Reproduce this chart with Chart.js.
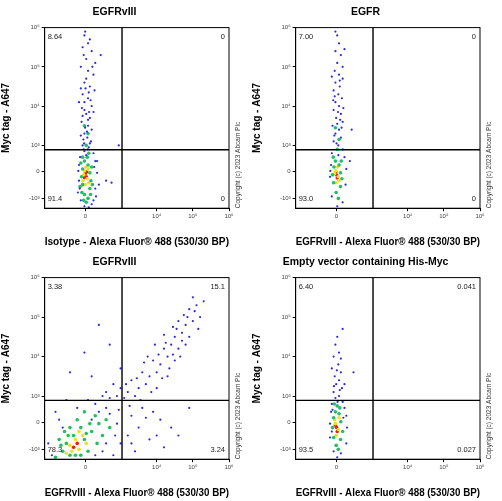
<!DOCTYPE html>
<html><head><meta charset="utf-8">
<script src="https://cdn.jsdelivr.net/npm/chart.js@4.4.0/dist/chart.umd.min.js"></script>
<style>
body{margin:0;background:#fff;}
#g{display:grid;grid-template-columns:251px 251px;grid-template-rows:250px 251px;width:502px;height:501px;}
canvas{display:block;}
</style></head><body>
<div id="g"><div><canvas id="c0" width="251" height="250"></canvas></div><div><canvas id="c1" width="251" height="250"></canvas></div><div><canvas id="c2" width="251" height="251"></canvas></div><div><canvas id="c3" width="251" height="251"></canvas></div></div>
<script>
// Display-unit axis (biexponential): tick positions and labels
const xTickVals=[2.03,4,5,6];
const xTickLabels=["0","10⁴","10⁵","10⁶"];
const yTickVals=[1.64,2.33,3,4,5,6];
const yTickLabels=["-10³","0","10³","10⁴","10⁵","10⁶"];
const titles=["EGFRvIII","EGFR","EGFRvIII","Empty vector containing His-Myc"];
const xTitles=["Isotype - Alexa Fluor® 488 (530/30 BP)","EGFRvIII - Alexa Fluor® 488 (530/30 BP)","EGFRvIII - Alexa Fluor® 488 (530/30 BP)","EGFRvIII - Alexa Fluor® 488 (530/30 BP)"];
const yTitle="Myc tag - A647";
const gateX=[3.04,3.04,3.04,3.04];
const gateY=[2.89,2.89,2.89,2.89];
const quadPct=[["8.64","0","91.4","0"],["7.00","0","93.0","0"],["3.38","15.1","78.3","3.24"],["6.40","0.041","93.5","0.027"]];

const p1Blue=[[2.0,5.8],[2.15,5.7],[1.95,5.5],[2.2,5.4],[2.05,5.2],[2.3,5.1],[1.9,5.0],[2.1,4.9],[2.25,4.8],[2.0,4.6],[2.15,4.5],[1.95,4.3],[2.1,4.2],[2.2,4.0],[2.0,3.9],[2.05,3.8],[2.15,3.7],[1.92,3.6],[2.1,3.5],[2.2,3.4],[2.0,3.3],[2.08,3.2],[2.18,3.1],[1.95,3.0],[2.12,2.95],[2.0,2.85],[2.25,2.8],[1.88,2.7],[2.3,2.6],[2.35,2.3],[1.85,2.1],[2.3,1.9],[1.9,1.6],[2.2,1.5],[2.4,2.0],[2.6,2.1],[2.75,2.05],[2.45,5.3],[1.85,4.1],[2.28,4.4],[2.02,5.9],[2.1,5.6],[1.98,5.3],[2.22,5.0],[2.05,4.7],[1.9,4.45],[2.12,4.35],[2.0,4.1],[2.25,3.85],[1.95,3.75],[2.1,3.65],[2.02,3.45],[1.9,3.25],[2.15,3.05],[2.05,2.75],[1.85,2.5],[2.35,2.6],[1.82,1.8],[2.32,1.7],[2.0,1.45],[2.12,1.42],[2.95,3.0],[1.97,3.15],[2.07,3.35],[2.13,3.85],[1.93,3.95],[2.03,4.45],[2.17,4.15],[1.99,3.05],[2.09,2.9],[2.27,2.45],[1.83,2.35],[1.87,1.9],[2.25,1.6],[1.98,2.9]];
const p1Green=[[2.0,2.6],[2.1,2.5],[1.95,2.4],[2.15,2.3],[1.95,2.0],[2.15,1.9],[2.0,1.75],[2.1,1.65],[1.92,2.2],[2.18,2.1],[2.05,3.0],[2.1,3.3],[1.9,2.55],[2.2,2.45],[1.88,1.95],[2.22,2.0],[2.05,1.55],[2.08,2.7],[2.0,3.5],[1.95,2.7],[2.12,2.8],[1.93,1.8],[2.17,1.75],[1.98,1.6]];
const p1Yellow=[[2.0,2.35],[2.08,2.15],[2.02,2.0],[1.98,2.25],[2.1,2.4],[1.96,2.1],[2.12,2.05],[2.04,2.45]];
const p1Red=[[2.02,2.28],[2.05,2.2],[2.0,2.18],[2.06,2.32]];

const p2Blue=[[2.05,5.8],[2.1,5.6],[2.0,5.4],[2.15,5.3],[2.05,5.1],[2.2,5.0],[1.98,4.9],[2.1,4.8],[2.2,4.7],[2.0,4.6],[2.12,4.5],[1.95,4.4],[2.08,4.3],[2.18,4.2],[2.0,4.1],[2.1,4.0],[1.95,3.9],[2.15,3.8],[2.02,3.7],[2.2,3.6],[1.92,3.5],[2.1,3.4],[2.0,3.3],[2.15,3.2],[1.95,3.1],[2.08,3.0],[2.2,2.9],[1.9,2.8],[2.25,2.7],[1.88,2.5],[2.3,2.4],[1.85,2.2],[2.28,2.0],[1.9,1.7],[2.2,1.55],[2.05,1.45],[2.4,2.6],[2.45,3.4],[1.9,4.75],[2.25,5.45],[2.0,5.9],[2.12,4.65],[2.05,3.55],[1.98,4.25],[2.07,3.85],[2.13,3.65],[1.97,3.25],[2.03,3.05],[2.17,3.45],[1.94,4.15],[2.22,3.95],[2.08,2.75],[1.86,2.35]];
const p2Green=[[2.0,2.6],[2.1,2.5],[1.96,2.45],[2.14,2.3],[1.95,2.05],[2.14,1.95],[2.02,1.8],[2.08,1.65],[1.92,2.25],[2.18,2.15],[2.05,2.9],[2.1,3.15],[2.0,3.45],[1.94,2.7],[2.16,2.6]];
const p2Yellow=[[2.0,2.35],[2.08,2.2],[2.02,2.05],[1.98,2.28],[2.06,2.45],[2.1,2.1]];
const p2Red=[[2.03,2.25],[2.05,2.17],[2.01,2.32]];

const p3Blue=[[5.3,5.4],[5.1,5.3],[5.2,5.0],[4.9,5.2],[5.0,4.9],[4.8,4.8],[5.15,4.7],[4.6,4.9],[4.7,4.6],[4.9,4.5],[4.5,4.5],[4.4,4.3],[4.6,4.2],[4.8,4.3],[4.3,4.0],[4.5,3.9],[4.2,4.2],[4.1,3.8],[4.0,3.6],[4.3,3.5],[3.9,3.9],[3.8,3.5],[3.7,3.3],[4.0,3.2],[3.6,3.6],[3.5,3.2],[3.4,3.0],[3.3,3.4],[3.2,3.1],[3.1,2.95],[3.0,3.2],[2.9,3.0],[2.8,3.3],[2.7,2.95],[2.6,3.1],[2.5,3.0],[3.6,2.7],[3.9,2.6],[4.1,2.4],[4.4,2.2],[3.5,2.2],[3.8,1.9],[4.2,1.7],[3.3,2.5],[3.2,2.0],[3.4,1.6],[4.6,2.0],[4.9,2.7],[2.4,4.8],[2.0,4.1],[1.6,3.6],[2.7,4.3],[2.2,3.5],[3.0,3.7],[5.0,5.5],[4.75,5.05],[4.55,4.7],[4.2,4.55],[3.95,4.3],[3.75,4.0],[4.65,4.0],[4.35,3.7],[3.85,3.1],[3.55,2.9],[3.25,2.75],[2.95,2.65],[2.6,2.7],[2.3,2.8],[2.1,2.9],[1.4,2.2],[1.1,1.5],[2.8,1.5],[3.0,1.8],[2.5,1.6],[2.9,2.3],[1.2,2.6],[1.5,2.9],[5.05,5.15],[4.85,5.0],[4.45,4.75],[4.25,4.35],[4.05,4.05],[3.65,3.85],[3.45,3.45],[3.15,3.3],[4.15,3.45],[4.45,4.05],[4.7,4.4],[3.7,2.45],[4.0,2.0],[3.3,1.8],[2.7,2.55],[2.85,2.0],[2.4,2.6],[2.2,2.4],[1.8,2.7],[1.0,1.8],[1.3,2.4],[2.3,1.5],[2.6,1.8]];
const p3Green=[[1.5,1.8],[1.7,2.0],[1.9,2.2],[1.4,1.6],[1.6,1.5],[2.0,1.9],[2.2,2.1],[1.8,2.4],[2.4,2.3],[1.3,1.9],[2.1,1.6],[2.5,2.0],[2.3,2.5],[1.9,1.5],[2.6,2.4],[1.6,2.2],[1.2,1.45],[2.7,2.2],[2.0,2.6],[1.45,2.1],[1.35,1.75],[1.55,2.0],[2.15,2.3],[2.35,1.8],[1.75,1.5],[2.05,2.05]];
const p3Yellow=[[1.6,1.75],[1.75,1.9],[1.85,1.65],[1.95,2.0],[1.5,1.55],[2.05,1.8],[1.65,1.6],[1.85,2.1]];
const p3Red=[[1.7,1.7],[1.8,1.8]];

const p4Blue=[[2.05,4.5],[2.0,4.3],[2.1,4.1],[1.95,4.0],[2.08,3.8],[2.15,3.6],[1.98,3.5],[2.1,3.4],[2.02,3.3],[2.18,3.2],[1.95,3.1],[2.1,3.0],[2.0,2.95],[2.2,2.85],[1.9,2.8],[2.25,2.7],[1.88,2.6],[2.3,2.5],[1.85,2.3],[2.32,2.2],[1.85,1.95],[2.3,1.8],[1.95,1.6],[2.15,1.55],[2.05,1.45],[2.5,3.6],[2.2,4.7],[1.9,3.7],[2.15,3.95],[2.25,3.3],[2.04,3.65],[1.96,3.25],[2.12,3.15],[2.06,2.85],[1.92,2.65],[2.22,2.45],[1.9,2.1]];
const p4Green=[[2.0,2.6],[2.1,2.55],[1.95,2.45],[2.15,2.35],[1.95,1.95],[2.14,1.9],[2.02,1.75],[2.08,1.65],[1.92,2.2],[2.2,2.1],[2.05,2.75],[1.97,2.8],[2.12,2.7]];
const p4Yellow=[[2.0,2.3],[2.08,2.15],[2.02,2.0],[1.98,2.4],[2.1,2.45]];
const p4Red=[[2.03,2.2],[2.05,2.1],[2.0,2.26]];

const panels=[[p1Blue,p1Green,p1Yellow,p1Red],[p2Blue,p2Green,p2Yellow,p2Red],[p3Blue,p3Green,p3Yellow,p3Red],[p4Blue,p4Green,p4Yellow,p4Red]];
const densColors=["#2a2ae0","#22c060","#f0e020","#e82010"];

function tickScale(vals,labels,min,max,title,axis){
  return {type:'linear',min:min,max:max,
    afterBuildTicks:s=>{s.ticks=vals.map(v=>({value:v}));},
    ticks:{autoSkip:false,maxRotation:0,font:{size:6,family:'Liberation Sans'},color:'#444',padding:2,
      callback:(v,i)=>labels[i]},
    grid:{drawOnChartArea:false,drawTicks:true,tickLength:3,color:'#000'},
    border:{color:'#000',width:1},
    title:{display:true,text:title,font:{size:axis==='x'?10.5:10,weight:'bold',family:'Liberation Sans'},color:'#000',padding:axis==='x'?{top:13,bottom:0}:{top:0,bottom:15}}};
}

const overlay={id:'ov',afterDatasetsDraw(ch,a,o){
  const c=ch.ctx,ca=ch.chartArea,xs=ch.scales.x,ys=ch.scales.y,i=o.idx;
  c.save();c.strokeStyle='#000';c.lineWidth=1;
  c.strokeRect(ca.left,ca.top,ca.right-ca.left,ca.bottom-ca.top);
  const gx=xs.getPixelForValue(gateX[i]),gy=ys.getPixelForValue(gateY[i]);
  c.lineWidth=1.4;c.beginPath();c.moveTo(gx,ca.top);c.lineTo(gx,ca.bottom);c.moveTo(ca.left,gy);c.lineTo(ca.right,gy);c.stroke();
  c.fillStyle='#222';c.font='7.5px Liberation Sans';
  const q=quadPct[i];
  c.textBaseline='top';c.textAlign='left';c.fillText(q[0],ca.left+3,ca.top+6);
  c.textAlign='right';c.fillText(q[1],ca.right-4,ca.top+6);
  c.textBaseline='bottom';c.textAlign='left';c.fillText(q[2],ca.left+3,ca.bottom-6);
  c.textAlign='right';c.fillText(q[3],ca.right-4,ca.bottom-6);
  c.translate(ca.right+9,ca.bottom);c.rotate(-Math.PI/2);c.textAlign='left';c.textBaseline='middle';
  c.font='6.5px Liberation Sans';c.fillStyle='#333';c.fillText('Copyright (c) 2023 Abcam Plc',0,0);
  c.restore();
}};

panels.forEach((sets,i)=>{
  new Chart(document.getElementById('c'+i),{type:'scatter',
    data:{datasets:sets.map((d,k)=>({data:d.map(p=>({x:p[0],y:p[1]})),backgroundColor:densColors[k],borderWidth:0,pointRadius:k===0?1.1:1.8}))},
    options:{responsive:false,animation:false,devicePixelRatio:1,
      layout:{padding:{left:0,right:22,top:0,bottom:2}},
      plugins:{legend:{display:false},tooltip:{enabled:false},
        title:{display:true,text:titles[i],font:{size:10.5,weight:'bold',family:'Liberation Sans'},color:'#000',padding:{top:6,bottom:9}},
        ov:{idx:i}},
      scales:{x:tickScale(xTickVals,xTickLabels,0.9,6,xTitles[i],'x'),y:tickScale(yTickVals,yTickLabels,1.4,6,yTitle,'y')}},
    plugins:[overlay]});
});
</script></body></html>
